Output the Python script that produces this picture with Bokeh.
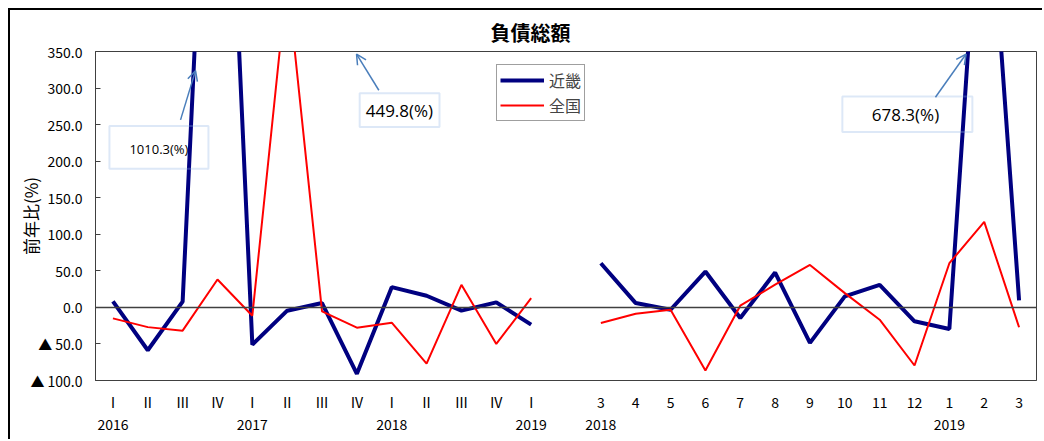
import numpy as np
from bokeh.plotting import figure
from bokeh.models import (Range1d, FixedTicker, LinearAxis, Span, BoxAnnotation, Label,
                          Arrow, OpenHead, Legend, LegendItem, ColumnDataSource)
from bokeh.embed import file_html
from bokeh.resources import INLINE

# ---- data ----
quarter_labels = ["Ⅰ", "Ⅱ", "Ⅲ", "Ⅳ", "Ⅰ", "Ⅱ", "Ⅲ", "Ⅳ", "Ⅰ", "Ⅱ", "Ⅲ", "Ⅳ", "Ⅰ"]
quarter_years = {0: "2016", 4: "2017", 8: "2018", 12: "2019"}
kinki_q = [8.2, -58.6, 8.0, 1010.3, -51.0, -4.5, 5.9, -90.8, 27.7, 15.9, -4.5, 6.8, -23.6]
zenkoku_q = [-15.0, -27.0, -31.8, 38.1, -11.4, 449.8, -5.4, -27.7, -20.9, -77.0, 30.9, -50.0, 12.7]

month_labels = ["3", "4", "5", "6", "7", "8", "9", "10", "11", "12", "1", "2", "3"]
month_years = {0: "2018", 10: "2019"}
kinki_m = [60.4, 5.9, -3.2, 49.0, -14.5, 47.7, -48.6, 15.0, 30.9, -19.0, -29.5, 678.3, 9.5]
zenkoku_m = [-21.3, -8.6, -3.2, -86.3, 2.3, 31.0, 58.0, 19.5, -16.8, -79.5, 60.4, 117.0, -27.2]

y_ticks = [-100, -50, 0, 50, 100, 150, 200, 250, 300, 350]

# ---- build combined x positions (gap between quarterly and monthly) ----
nq, nm = len(quarter_labels), len(month_labels)
gap = 1
month_offset = nq + gap
x_all = list(range(nq)) + [nq] + [month_offset + i for i in range(nm)]
kinki_all = kinki_q + [np.nan] + kinki_m
zenkoku_all = zenkoku_q + [np.nan] + zenkoku_m
src = ColumnDataSource(dict(x=x_all, kinki=kinki_all, zenkoku=zenkoku_all))

FONT = "Noto Sans CJK JP"

p = figure(width=1034, height=431, output_backend="svg", toolbar_location=None,
           x_range=Range1d(-0.5, month_offset + nm - 0.5), y_range=Range1d(-100, 350),
           min_border_left=85, min_border_right=8, min_border_top=39, min_border_bottom=61)
p.styles = {"border-left": "2px solid black", "border-top": "2px solid black",
            "margin-left": "8px", "margin-top": "8px"}
p.grid.visible = False
p.outline_line_color = "#404040"
p.outline_line_width = 1
p.background_fill_color = "white"
p.border_fill_color = "white"

p.title.text = "負債総額"
p.title.text_font = FONT
p.title.text_font_size = "20px"
p.title.text_font_style = "bold"
p.title.align = "left"
p.title.offset = 395
p.title.text_color = "black"

# y axis
ya = p.yaxis[0]
ya.ticker = FixedTicker(ticks=y_ticks)
ya.major_label_overrides = {v: (f"{v:.1f}" if v >= 0 else f"▲ {abs(v):.1f}") for v in y_ticks}
ya.major_label_text_font = FONT
ya.major_label_text_font_size = "14px"
ya.major_label_text_color = "black"
ya.major_tick_in = 5
ya.major_tick_out = 0
ya.minor_tick_line_color = None
ya.major_label_standoff = 13
ya.axis_line_color = "#404040"
ya.major_tick_line_color = "#404040"
ya.axis_label = "前年比(%)"
ya.axis_label_text_font = FONT
ya.axis_label_text_font_size = "17px"
ya.axis_label_text_font_style = "normal"
ya.axis_label_text_color = "black"
ya.axis_label_standoff = -16

# x axis (labels row)
xa = p.xaxis[0]
q_ticks = list(range(nq))
m_ticks = [month_offset + i for i in range(nm)]
xa.ticker = FixedTicker(ticks=q_ticks + m_ticks)
ov = {i: quarter_labels[i] for i in range(nq)}
ov.update({month_offset + i: month_labels[i] for i in range(nm)})
xa.major_label_overrides = ov
xa.major_label_text_font = FONT
xa.major_label_text_font_size = "14px"
xa.major_label_text_color = "black"
xa.major_tick_in = 0
xa.major_tick_out = 0
xa.minor_tick_line_color = None
xa.major_tick_line_color = None
xa.axis_line_color = "#404040"
xa.major_label_standoff = 11

# x axis (years row)
yr_ticks = list(quarter_years.keys()) + [month_offset + k for k in month_years.keys()]
yr_ov = {k: v for k, v in quarter_years.items()}
yr_ov.update({month_offset + k: v for k, v in month_years.items()})
xa2 = LinearAxis(ticker=FixedTicker(ticks=yr_ticks), major_label_overrides=yr_ov,
                 axis_line_color=None, major_tick_line_color=None, minor_tick_line_color=None,
                 major_tick_in=0, major_tick_out=0, major_label_standoff=4,
                 major_label_text_font=FONT, major_label_text_font_size="14px",
                 major_label_text_color="black")
p.add_layout(xa2, "below")

# zero line
p.add_layout(Span(location=0, dimension="width", line_color="#404040", line_width=1.5))

# series
r_k = p.line("x", "kinki", source=src, line_color="#000080", line_width=4)
r_z = p.line("x", "zenkoku", source=src, line_color="#FF0000", line_width=2)

legend = Legend(items=[LegendItem(label="近畿", renderers=[r_k]),
                       LegendItem(label="全国", renderers=[r_z])],
                location=(401, 259), label_text_font=FONT, label_text_font_size="16px",
                glyph_width=44, glyph_height=18, label_height=18, label_standoff=5,
                spacing=1, padding=3, margin=0,
                border_line_color="#404040", border_line_width=1, background_fill_color="white")
p.add_layout(legend)

# callouts
box_color = "#8FB4E3"
arrow_color = "#4A7EBB"
callouts = [
    dict(box=(-0.10, 2.74, 248.0, 189.5), text="1010.3(%)", tx=1.32, ty=217.0, size="13px",
         arrow=(1.94, 256.5, 2.37, 323.8)),
    dict(box=(7.08, 9.37, 293.0, 246.6), text="449.8(%)", tx=8.22, ty=269.8, size="17px",
         arrow=(7.63, 297.0, 6.99, 346.5)),
    dict(box=(20.93, 24.66, 288.4, 239.8), text="678.3(%)", tx=22.74, ty=263.5, size="17px",
         arrow=(23.6, 287.5, 24.48, 346.5)),
]
for c in callouts:
    l, r, t, b = c["box"]
    p.add_layout(BoxAnnotation(left=l, right=r, top=t, bottom=b, fill_color="white", fill_alpha=0.0,
                               line_color=box_color, line_width=2))
    p.add_layout(Label(x=c["tx"], y=c["ty"], text=c["text"], text_align="center",
                       text_baseline="middle", text_font="Open Sans", text_font_size=c["size"],
                       text_color="black"))
    x0, y0, x1, y1 = c["arrow"]
    p.add_layout(Arrow(x_start=x0, y_start=y0, x_end=x1, y_end=y1, line_color=arrow_color,
                       line_width=1.5,
                       end=OpenHead(size=10, line_color=arrow_color, line_width=1.5)))

open("out.html", "w").write(file_html(p, INLINE))
